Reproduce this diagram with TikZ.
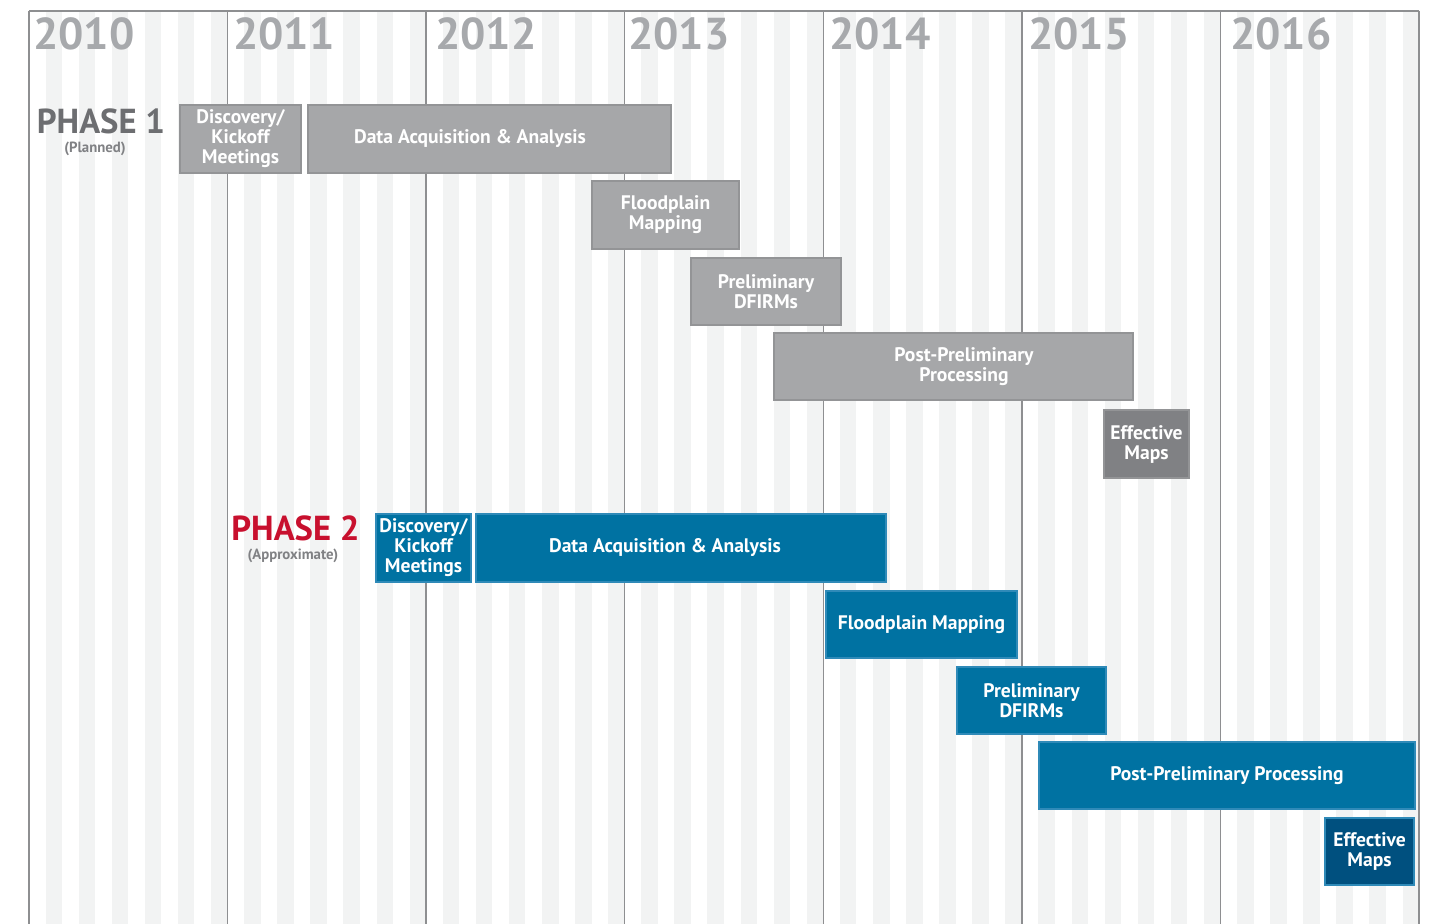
\documentclass[tikz,border=0pt]{standalone}
\usepackage{fontspec}
\setmainfont{PT Sans}
\usepackage{tikz}
\definecolor{stripe}{HTML}{F2F3F3}
\definecolor{gridline}{HTML}{8E8F91}
\definecolor{yeargray}{HTML}{A7A9AC}
\definecolor{phasegray}{HTML}{6D6E71}
\definecolor{notegray}{HTML}{808184}
\definecolor{phasered}{HTML}{C8102E}
\definecolor{graybox}{HTML}{A6A7A9}
\definecolor{grayedge}{HTML}{939496}
\definecolor{darkgraybox}{HTML}{808184}
\definecolor{bluebox}{HTML}{0072A2}
\definecolor{blueedge}{HTML}{2F8AB8}
\definecolor{darkbluebox}{HTML}{00507F}
\def\pxu{0.75pt}% one pixel of the 1435x924 layout

\begin{document}
\begin{tikzpicture}[x=0.75pt,y=-0.75pt,
	tasktext/.style={text=white,align=center,inner sep=0pt,font=\bfseries\fontsize{14.7}{15}\selectfont},
	task/.style={tasktext,draw,line width=1.1pt},
	ph1/.style={task,fill=graybox,draw=grayedge},
	ph2/.style={task,fill=bluebox,draw=blueedge},
	yearlab/.style={anchor=base west,inner sep=0pt,text=yeargray,font=\bfseries\fontsize{33.5}{33}\selectfont},
	phaselab/.style={anchor=base,inner sep=0pt,font=\bfseries\fontsize{26}{26}\selectfont},
	notelab/.style={anchor=base,inner sep=0pt,text=notegray,font=\bfseries\fontsize{11.1}{12}\selectfont}]
	\useasboundingbox (0,0) rectangle (1435,924);
	
	\foreach \m in {1,3,...,83}		%month stripes
		\fill[stripe] ({29+\m*16.548},11) rectangle ({29+(\m+1)*16.548},924);
	\foreach \k in {0,...,7}		%year lines
		\draw[gridline,line width=1.1pt] ({29+\k*198.571},11)--({29+\k*198.571},924);
	\draw[gridline,line width=1.1pt] (29,11)--(1419,11);
	
	\foreach \yr/\xx in {2010/33,2011/233,2012/435,2013/628,2014/829,2015/1028,2016/1230}
		\node[yearlab] (y\yr) at (\xx,50) {\yr};
	
	%phase 1
	\node[phaselab,text=phasegray] (ph1) at (101,133) {PHASE 1};
	\node[notelab] (ph1n) at (95,152) {(Planned)};
	\node[ph1,minimum width=121*\pxu,minimum height=68*\pxu] (p1disc) at (240.5,139) {Discovery/\\Kickoff\\Meetings};
	\node[ph1,minimum width=363*\pxu,minimum height=68*\pxu,
		label={[tasktext,xshift=-19.5*\pxu]center:Data Acquisition \& Analysis}] (p1data) at (489.5,139) {};
	\node[ph1,minimum width=147*\pxu,minimum height=68*\pxu] (p1flood) at (665.5,215) {Floodplain\\Mapping};
	\node[ph1,minimum width=150*\pxu,minimum height=67*\pxu] (p1prelim) at (766,291.5) {Preliminary\\DFIRMs};
	\node[ph1,minimum width=359*\pxu,minimum height=67*\pxu,
		label={[tasktext,xshift=10.5*\pxu]center:Post-Preliminary\\Processing}] (p1post) at (953.5,366.5) {};
	\node[ph1,fill=darkgraybox,minimum width=85*\pxu,minimum height=68*\pxu] (p1eff) at (1146.5,444) {Effective\\Maps};
	
	%phase 2
	\node[phaselab,text=phasered] (ph2) at (295.5,540) {PHASE 2};
	\node[notelab] (ph2n) at (293,559) {(Approximate)};
	\node[ph2,minimum width=95*\pxu,minimum height=68*\pxu] (p2disc) at (423.5,548) {Discovery/\\Kickoff\\Meetings};
	\node[ph2,minimum width=410*\pxu,minimum height=68*\pxu,
		label={[tasktext,xshift=-16*\pxu]center:Data Acquisition \& Analysis}] (p2data) at (681,548) {};
	\node[ph2,minimum width=191*\pxu,minimum height=67*\pxu] (p2flood) at (921.5,624.5) {Floodplain Mapping};
	\node[ph2,minimum width=149*\pxu,minimum height=67*\pxu] (p2prelim) at (1031.5,700.5) {Preliminary\\DFIRMs};
	\node[ph2,minimum width=376*\pxu,minimum height=67*\pxu] (p2post) at (1227,775.5) {Post-Preliminary Processing};
	\node[ph2,fill=darkbluebox,minimum width=89*\pxu,minimum height=67*\pxu] (p2eff) at (1369.5,851.5) {Effective\\Maps};
\end{tikzpicture}
\end{document}
